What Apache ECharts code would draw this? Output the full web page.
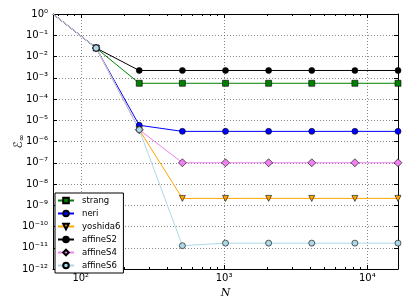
<!DOCTYPE html>
<html>
<head>
<meta charset="utf-8">
<script src="https://cdn.jsdelivr.net/npm/echarts@6/dist/echarts.min.js"></script>
<style>html,body{margin:0;padding:0;background:#fff;}#c{width:407px;height:305px;}</style>
</head>
<body>
<div id="c"></div>
<script>
const N = [64, 128, 256, 512, 1024, 2048, 4096, 8192, 16384];
const strang   = [1, 0.025, 5.5e-4, 5.5e-4, 5.5e-4, 5.5e-4, 5.5e-4, 5.5e-4, 5.5e-4];
const neri     = [1, 0.025, 5.8e-6, 3.0e-6, 3.0e-6, 3.0e-6, 3.0e-6, 3.0e-6, 3.0e-6];
const yoshida6 = [1, 0.025, 3.6e-6, 2.1e-9, 2.1e-9, 2.1e-9, 2.1e-9, 2.1e-9, 2.1e-9];
const affineS2 = [1, 0.025, 2.2e-3, 2.2e-3, 2.2e-3, 2.2e-3, 2.2e-3, 2.2e-3, 2.2e-3];
const affineS4 = [1, 0.025, 3.6e-6, 1.0e-7, 1.0e-7, 1.0e-7, 1.0e-7, 1.0e-7, 1.0e-7];
const affineS6 = [1, 0.025, 3.6e-6, 1.25e-11, 1.65e-11, 1.65e-11, 1.65e-11, 1.65e-11, 1.65e-11];

const xMajorTicks = [100, 1000, 10000];
const xMinorTicks = [70, 80, 90, 200, 300, 400, 500, 600, 700, 800, 900,
                     2000, 3000, 4000, 5000, 6000, 7000, 8000, 9000];
const yMajorTicks = [1, 1e-1, 1e-2, 1e-3, 1e-4, 1e-5, 1e-6, 1e-7, 1e-8, 1e-9, 1e-10, 1e-11, 1e-12];

const FONT = 'DejaVu Sans';
const SUP = { '0': '\u2070', '1': '\u00b9', '2': '\u00b2', '3': '\u00b3', '4': '\u2074',
              '5': '\u2075', '6': '\u2076', '7': '\u2077', '8': '\u2078', '9': '\u2079', '-': '\u207b' };
function pow10Label(v) {
  const e = String(Math.round(Math.log10(v)));
  return '10' + e.split('').map(c => SUP[c]).join('');
}

const chart = echarts.init(document.getElementById('c'), null, { renderer: 'canvas' });
const grid = { left: 53, right: 9, top: 14, bottom: 36, containLabel: false, outerBoundsMode: 'none' };
const xBase = { type: 'log', logBase: 10, min: 64, max: 16384, gridIndex: 0 };
const yBase = { type: 'log', logBase: 10, min: 1e-12, max: 1, gridIndex: 0 };

function mk(name, data, color, symbol, size, extra) {
  return Object.assign({
    name: name, type: 'line', xAxisIndex: 0, yAxisIndex: 0,
    data: N.map((n, i) => [n, data[i]]),
    symbol: symbol,
    symbolSize: function (v, p) { return p.dataIndex === 0 ? 0 : size; },
    lineStyle: { color: color, width: 1 },
    itemStyle: { color: color, borderColor: '#000', borderWidth: 0.6 },
    emphasis: { disabled: true },
    animation: false, clip: true
  }, extra || {});
}

chart.setOption({
  animation: false,
  textStyle: { fontFamily: FONT },
  grid: grid,
  legend: {
    orient: 'vertical', left: 55, top: 193,
    itemWidth: 16, itemHeight: 7, itemGap: 4,
    padding: [3, 3, 3, 2],
    borderColor: '#000', borderWidth: 1, backgroundColor: '#fff',
    textStyle: { fontSize: 8.5, fontFamily: FONT, color: '#000', padding: [0, 0, 0, 3] },
    data: ['strang', 'neri', 'yoshida6', 'affineS2', 'affineS4', 'affineS6']
  },
  xAxis: [
    Object.assign({}, xBase, {
      position: 'bottom',
      name: 'N', nameLocation: 'middle', nameGap: 19, nameMoveOverlap: false,
      nameTextStyle: { fontStyle: 'italic', fontSize: 11, fontFamily: 'DejaVu Serif', color: '#000' },
      axisLine: { show: true, lineStyle: { color: '#000', width: 1 } },
      axisTick: { show: true, inside: true, length: 4, customValues: xMajorTicks, lineStyle: { color: '#000' } },
      axisLabel: { show: true, customValues: xMajorTicks, formatter: pow10Label, fontSize: 10, fontFamily: FONT, color: '#000', margin: 4, overflow: 'none', hideOverlap: false },
      splitLine: { show: true, lineStyle: { color: '#555', width: 0.7, type: [1, 2] } }
    }),
    Object.assign({}, xBase, {
      position: 'bottom',
      axisLine: { show: false },
      axisTick: { show: true, inside: true, length: 2, customValues: xMinorTicks, lineStyle: { color: '#000' } },
      axisLabel: { show: false },
      splitLine: { show: false }
    }),
    Object.assign({}, xBase, {
      position: 'top',
      axisLine: { show: true, lineStyle: { color: '#000', width: 1 } },
      axisTick: { show: true, inside: true, length: 4, customValues: xMajorTicks, lineStyle: { color: '#000' } },
      axisLabel: { show: false },
      splitLine: { show: false }
    }),
    Object.assign({}, xBase, {
      position: 'top',
      axisLine: { show: false },
      axisTick: { show: true, inside: true, length: 2, customValues: xMinorTicks, lineStyle: { color: '#000' } },
      axisLabel: { show: false },
      splitLine: { show: false }
    })
  ],
  yAxis: [
    Object.assign({}, yBase, {
      position: 'left',
      name: '{e|\u2130}{s|\u221e}', nameLocation: 'middle', nameGap: 27, nameRotate: 90, nameMoveOverlap: false,
      nameTextStyle: {
        color: '#000',
        rich: {
          e: { fontSize: 12, fontFamily: 'DejaVu Sans', color: '#000' },
          s: { fontSize: 8, fontFamily: 'DejaVu Sans', color: '#000', padding: [6, 0, 0, 0] }
        }
      },
      axisLine: { show: true, lineStyle: { color: '#000', width: 1 } },
      axisTick: { show: true, inside: true, length: 4, customValues: yMajorTicks, lineStyle: { color: '#000' } },
      axisLabel: { show: true, customValues: yMajorTicks, formatter: pow10Label, fontSize: 10, fontFamily: FONT, color: '#000', margin: 5, overflow: 'none', hideOverlap: false },
      splitLine: { show: true, lineStyle: { color: '#555', width: 0.7, type: [1, 2] } }
    }),
    Object.assign({}, yBase, {
      position: 'right',
      axisLine: { show: true, lineStyle: { color: '#000', width: 1 } },
      axisTick: { show: true, inside: true, length: 4, customValues: yMajorTicks, lineStyle: { color: '#000' } },
      axisLabel: { show: false },
      splitLine: { show: false }
    })
  ],
  series: [
    mk('strang', strang, '#008000', 'rect', 6),
    mk('neri', neri, '#0000ff', 'circle', 6),
    mk('yoshida6', yoshida6, '#ffa500', 'triangle', 6, { symbolRotate: 180 }),
    mk('affineS2', affineS2, '#000000', 'circle', 6),
    mk('affineS4', affineS4, '#ee82ee', 'diamond', 8),
    mk('affineS6', affineS6, '#add8e6', 'circle', 6)
  ]
});
</script>
</body>
</html>
